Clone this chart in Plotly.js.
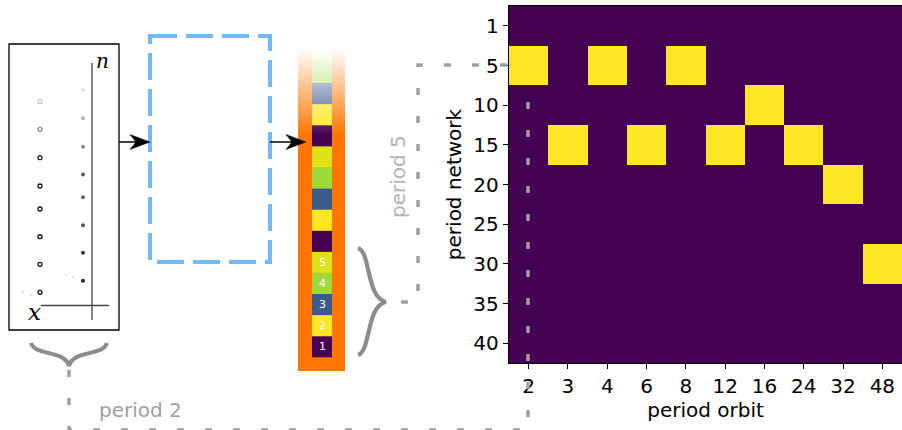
<!DOCTYPE html>
<html>
<head>
<meta charset="utf-8">
<script src="https://cdn.plot.ly/plotly-3.0.1.min.js"></script>
<style>html,body{margin:0;padding:0;background:#fff}</style>
</head>
<body>
<div id="chart" style="width:902px;height:430px"></div>
<script>
// ---------- heatmap data ----------
const orbitPeriods = ['2','3','4','6','8','12','16','24','32','48'];
const networkPeriods = ['1','5','10','15','20','25','30','35','40'];
const row1  = [0,0,0,0,0,0,0,0,0,0];
const row5  = [1,0,1,0,1,0,0,0,0,0];
const row10 = [0,0,0,0,0,0,1,0,0,0];
const row15 = [0,1,0,1,0,1,0,1,0,0];
const row20 = [0,0,0,0,0,0,0,0,1,0];
const row25 = [0,0,0,0,0,0,0,0,0,0];
const row30 = [0,0,0,0,0,0,0,0,0,1];
const row35 = [0,0,0,0,0,0,0,0,0,0];
const row40 = [0,0,0,0,0,0,0,0,0,0];
const presence = [row1,row5,row10,row15,row20,row25,row30,row35,row40];

// ---------- sketch (left panel) dots ----------
const sketchLeftX = [40,40,40,40,40,40,40,40];
const sketchLeftY = [101.5,129.3,157.7,186,209,236.7,264.3,292.3];
const sketchLeftC = ['#c8c8c8','#8a8a8a','#222','#111','#111','#111','#111','#111'];
const sketchRightX = [83,83,83,83,83,83,83,83];
const sketchRightY = [90,118.3,146.7,174.5,197.3,225.3,252.7,280.7];
const sketchRightC = ['#e2e2e2','#b5b5b5','#888','#555','#666','#555','#333','#222'];
const faintX = [23,31,66,73];
const faintY = [292,295,275,277];

// state column cells (bottom to top), repeating period-5 pattern
const stateColors = ['#440154','#fde725','#3b5a8c','#9fd93b','#dde318'];
const stateLabels = ['1','2','3','4','5'];

const W = 902, H = 430;
const plotL = 509, plotR = 902, plotT = 6, plotB = 363;

const traces = [
  {
    type:'heatmap', x: orbitPeriods, y: networkPeriods, z: presence,
    colorscale:[[0,'#440154'],[1,'#fde725']], zmin:0, zmax:1,
    showscale:false, xaxis:'x', yaxis:'y', hoverinfo:'skip'
  },
  {
    type:'scatter', mode:'markers', x: sketchLeftX, y: sketchLeftY,
    xaxis:'x2', yaxis:'y2', hoverinfo:'skip',
    marker:{symbol:'circle-open', size:4, line:{width:1.3, color: sketchLeftC}, color: sketchLeftC}
  },
  {
    type:'scatter', mode:'markers', x: sketchRightX, y: sketchRightY,
    xaxis:'x2', yaxis:'y2', hoverinfo:'skip',
    marker:{symbol:'circle', size:4, color: sketchRightC}
  },
  {
    type:'scatter', mode:'markers', x: faintX, y: faintY,
    xaxis:'x2', yaxis:'y2', hoverinfo:'skip',
    marker:{symbol:'circle', size:2, color:'#d0d0d0'}
  }
];

const shapes = [];
const ref = {xref:'x2', yref:'y2'};
function line(x0,y0,x1,y1,color,width,dash){
  shapes.push(Object.assign({type:'line',x0,y0,x1,y1,line:{color,width,dash:dash||'solid'}},ref));
}
function rect(x0,y0,x1,y1,fill,lineColor,lineWidth,dash){
  shapes.push(Object.assign({type:'rect',x0,y0,x1,y1,fillcolor:fill,
    line:{color:lineColor||'rgba(0,0,0,0)',width:lineWidth||0,dash:dash||'solid'}},ref));
}
function path(d,color,width,dash,fill){
  const s = Object.assign({type:'path',path:d,line:{color,width,dash:dash||'solid'}},ref);
  if(fill) s.fillcolor = fill;
  shapes.push(s);
}
function arrow(x0,x1,y){
  line(x0,y,x1-14,y,'#000',1.5);
  const L=20, h=7.5, n=6;
  path('M '+x1+','+y+' L '+(x1-L)+','+(y-h)+' L '+(x1-L+n)+','+y+' L '+(x1-L)+','+(y+h)+' Z','#000',0.5,'solid','#000');
}

// left sketch box
rect(9,44,119,330,'rgba(0,0,0,0)','#000',1.3);
line(92,63,92,320,'#666',1.6);
line(41,305.5,109,305.5,'#444',1.6);

// blue dashed box
rect(150,36,270,262,'rgba(0,0,0,0)','rgb(116,185,255)',4,'27px,9px');

// orange column
rect(298,46,345,371,'#ff7700');
const cellH = 21.1;
const annotations = [];
for(let i=0;i<15;i++){
  const y1 = 357.3 - i*cellH, y0 = y1 - cellH;
  rect(312,Math.max(y0,46),332,y1,stateColors[i%5]);
  if(i<5){
    annotations.push({xref:'x2',yref:'y2',x:322,y:(y0+y1)/2,text:stateLabels[i],showarrow:false,
      font:{family:'DejaVu Sans',size:11,color:'#ffffff'}});
  }
}
// white fade over the top of the column
for(let y=48;y<135;y+=1){
  const a = Math.max(0,(135-y)/87);
  rect(296,y,347,y+1,'rgba(255,255,255,'+a.toFixed(3)+')');
}
rect(296,40,347,48,'#ffffff');

// braces
path('M 358,248 C 371,252 366,298 386,302 C 366,306 371,351 358,355','#8c8c8c',4.2);
path('M 31,343 C 35,356 65,350 69,366 C 73,350 103,356 107,343','#8c8c8c',4.2);

// dashed connectors
const dashCol = 'rgb(160,160,160)';
path('M 401,302 L 418,302 L 418,65 L 508,65', dashCol, 3.5, '7px,21px');
path('M 69,370 L 69,430 L 528,430 L 528,100', dashCol, 3.5, '7px,21px');

// arrows
arrow(119,150,142);
arrow(270,306,142);

// texts
annotations.push({xref:'x2',yref:'y2',x:102,y:61,text:'n',showarrow:false,
  font:{family:'DejaVu Serif',size:20,color:'#000',style:'italic'}});
annotations.push({xref:'x2',yref:'y2',x:34,y:312,text:'x',showarrow:false,
  font:{family:'DejaVu Serif',size:23,color:'#000',style:'italic'}});
annotations.push({xref:'x2',yref:'y2',x:97,y:410,xanchor:'left',text:'period 2',showarrow:false,
  font:{family:'DejaVu Sans',size:20,color:'#a0a0a0'}});
annotations.push({xref:'x2',yref:'y2',x:398,y:177,text:'period 5',textangle:-90,showarrow:false,
  font:{family:'DejaVu Sans',size:20,color:'#b4b4b4'}});

const tickFont = {family:'DejaVu Sans',size:20,color:'#000'};
const layout = {
  width:W, height:H,
  margin:{l:0,r:0,t:0,b:0},
  paper_bgcolor:'#fff', plot_bgcolor:'rgba(0,0,0,0)',
  showlegend:false,
  font:{family:'DejaVu Sans'},
  xaxis:{
    type:'category', domain:[plotL/W, plotR/W], anchor:'y',
    ticks:'outside', ticklen:5, tickwidth:1, tickcolor:'#000',
    showline:true, linecolor:'#000', linewidth:1.2, mirror:true,
    showgrid:false, zeroline:false, tickfont:tickFont,
    title:{text:'period orbit', font:{family:'DejaVu Sans',size:20,color:'#000'}, standoff:4},
    automargin:false, fixedrange:true
  },
  yaxis:{
    type:'category', domain:[1-plotB/H, 1-plotT/H], anchor:'x',
    autorange:'reversed',
    ticks:'outside', ticklen:5, tickwidth:1, tickcolor:'#000',
    showline:true, linecolor:'#000', linewidth:1.2, mirror:true,
    showgrid:false, zeroline:false, tickfont:tickFont,
    title:{text:'period network', font:{family:'DejaVu Sans',size:20,color:'#000'}, standoff:6},
    automargin:false, fixedrange:true
  },
  xaxis2:{domain:[0,1], range:[0,W], anchor:'y2', visible:false, fixedrange:true},
  yaxis2:{domain:[0,1], range:[H,0], anchor:'x2', visible:false, fixedrange:true},
  shapes, annotations
};

Plotly.newPlot('chart', traces, layout, {displayModeBar:false, staticPlot:true});
</script>
</body>
</html>
